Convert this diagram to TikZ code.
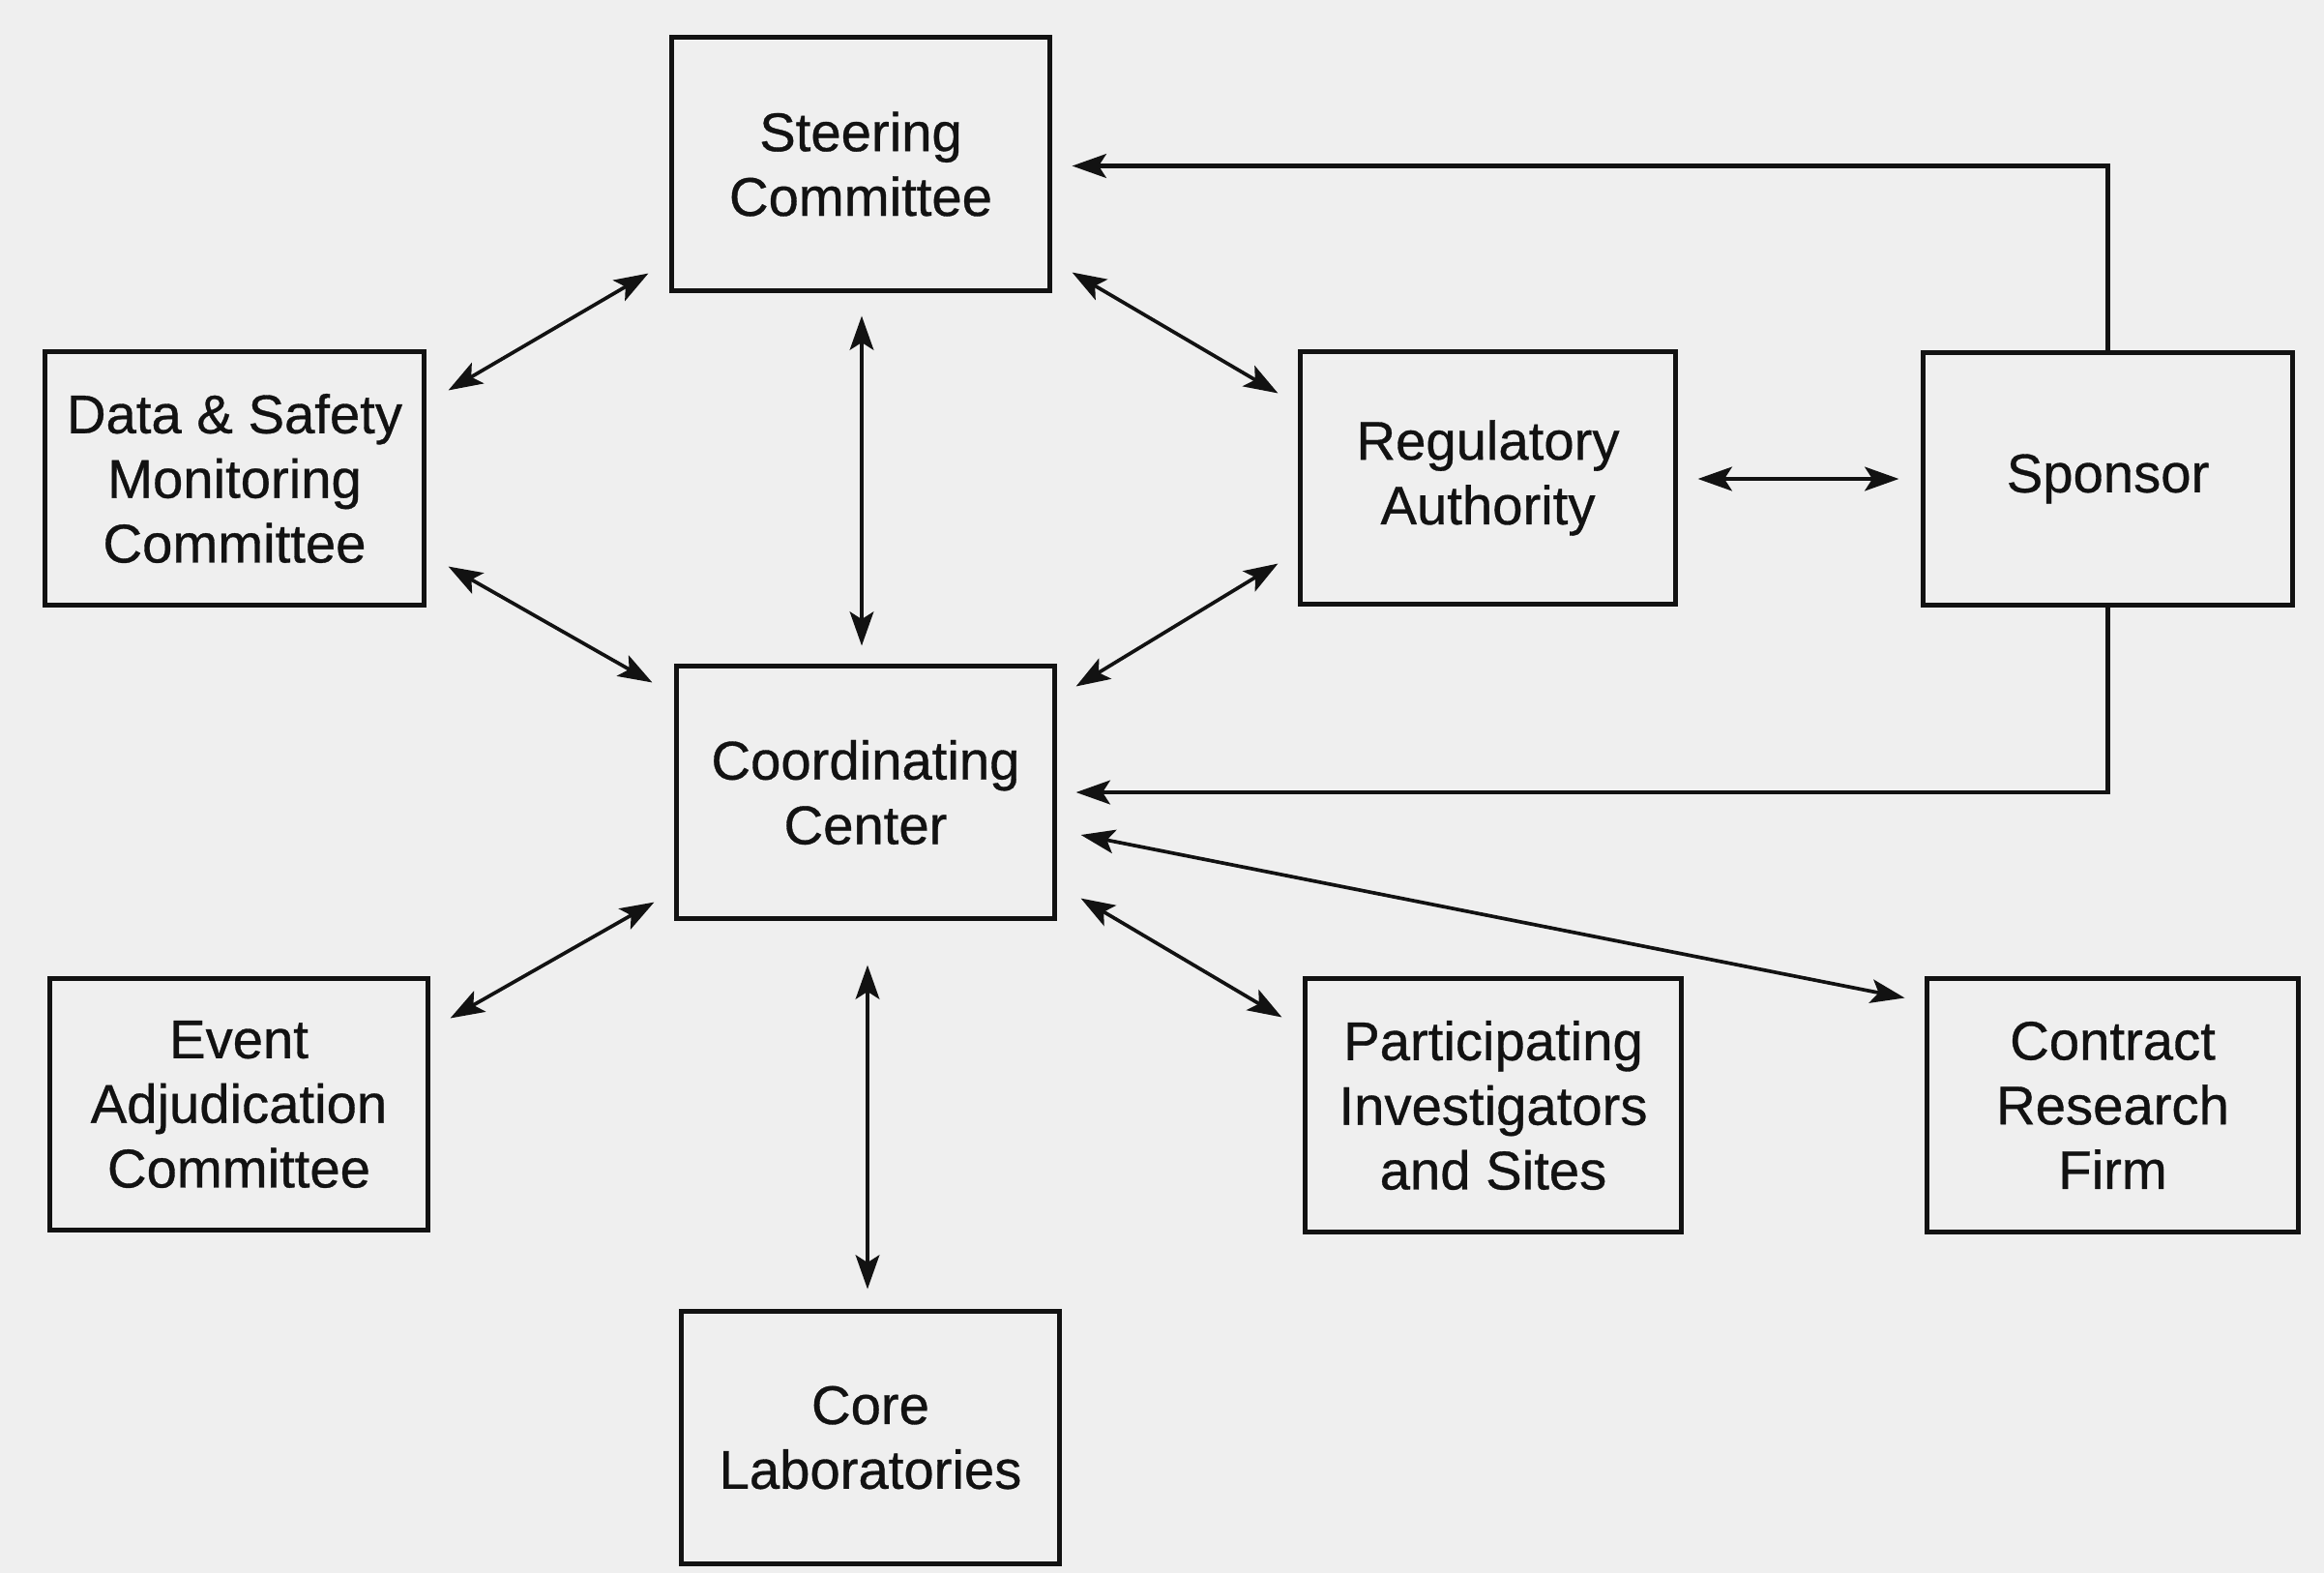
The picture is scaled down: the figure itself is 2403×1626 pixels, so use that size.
\documentclass[tikz,border=0pt]{standalone}
\usepackage{fontspec}
\setmainfont{Liberation Sans}
\newfontfamily\boxfont[FakeBold=0.6]{Liberation Sans}
\usetikzlibrary{arrows.meta,calc}
\definecolor{paper}{RGB}{239,239,239}
\definecolor{ink}{RGB}{18,18,18}
\begin{document}
\begin{tikzpicture}[x=0.01cm,y=-0.01cm,
  >={Stealth[length=10pt,width=7pt,inset=2.2pt]},
  box/.style={draw=ink, line width=1.4pt, fill=paper, text=ink, align=center,
    inner sep=0pt, font=\boxfont\fontsize{16}{19}\selectfont},
  arr/.style={draw=ink, line width=1.05pt, <->},
  arrone/.style={draw=ink, line width=1.35pt, ->}]
\path[use as bounding box, fill=paper] (0,0) rectangle (2403,1626);

\node[box, minimum width=3.9cm, minimum height=2.61cm] (st) at (890,169.5) {Steering\\Committee};
\node[box, minimum width=3.91cm, minimum height=2.61cm] (ds) at (242.5,494.5) {Data \& Safety\\Monitoring\\Committee};
\node[box, minimum width=3.87cm, minimum height=2.6cm] (ra) at (1538.5,494) {Regulatory\\Authority};
\node[box, minimum width=3.81cm, minimum height=2.6cm] (sp) at (2179.5,495) {Sponsor};
\node[box, minimum width=3.9cm, minimum height=2.6cm] (cc) at (895,819) {Coordinating\\Center};
\node[box, minimum width=3.9cm, minimum height=2.59cm] (ev) at (247,1141.5) {Event\\Adjudication\\Committee};
\node[box, minimum width=3.88cm, minimum height=2.61cm] (pi) at (1544,1142.5) {Participating\\Investigators\\and Sites};
\node[box, minimum width=3.83cm, minimum height=2.61cm] (cr) at (2184.5,1142.5) {Contract\\Research\\Firm};
\node[box, minimum width=3.9cm, minimum height=2.6cm] (cl) at (900,1486) {Core\\Laboratories};

% arrows
\draw[arr] ($(st.south west)+(-22,-20)$) -- ($(ds.north east)+(23,42)$);
\draw[arr] ($(st.south east)+(21,-21)$) -- ($(ra.north west)+(-21,45)$);
\draw[arr] ($(st.south)+(1,24)$) -- ($(cc.north)+(-4,-19)$);
\draw[arr] ($(ds.south east)+(23,-42)$) -- ($(cc.north west)+(-23,19)$);
\draw[arr] ($(ra.south west)+(-21,-44)$) -- ($(cc.north east)+(20,23)$);
\draw[arr, line width=1.35pt] ($(ra.east)+(21,1)$) -- ($(sp.west)+(-23,0)$);
\draw[arrone] (sp.north) |- ($(st.east)+(21,2)$);
\draw[arrone] (sp.south) |- ($(cc.east)+(20,0)$);
\draw[arr] ($(cc.east)+(25,44)$) -- ($(cr.north west)+(-21,22)$);
\draw[arr] ($(cc.south west)+(-21,-19)$) -- ($(ev.north east)+(21,43)$);
\draw[arr] ($(cc.south east)+(25,-23)$) -- ($(pi.north west)+(-22,42)$);
\draw[arr] ($(cc.south)+(2,46)$) -- ($(cl.north)+(-3,-21)$);
\end{tikzpicture}
\end{document}
